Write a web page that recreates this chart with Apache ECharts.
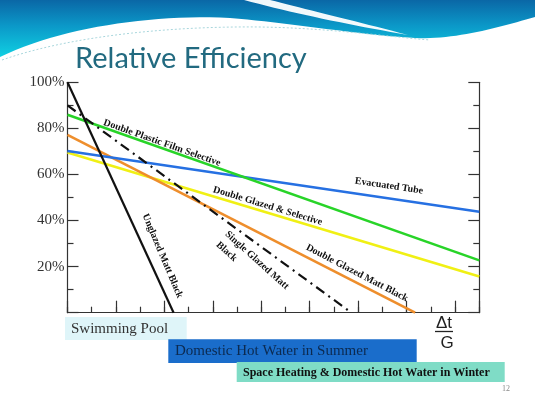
<!DOCTYPE html>
<html><head><meta charset="utf-8">
<script src="https://cdn.jsdelivr.net/npm/echarts@6/dist/echarts.min.js"></script>
<style>html,body{margin:0;padding:0;background:#fff}#c{width:535px;height:400px}</style>
</head><body><div id="c"></div><script>
// ---- data (x: Δt/G axis units 0..17, y: relative efficiency %) ----
const yTickValues = [0, 20, 40, 60, 80, 100];
const seriesNames = ['Double Glazed & Selective', 'Double Glazed Matt Black', 'Evacuated Tube',
  'Double Plastic Film Selective', 'Single Glazed Matt Black', 'Unglazed Matt Black'];
const doubleGlazedSelective = [[0, 69.5], [17, 15.7]];
const doubleGlazedMattBlack = [[0, 77.2], [14.35, 0]];
const evacuatedTube = [[0, 70.2], [17, 43.8]];
const doublePlasticFilm = [[0, 85.9], [17, 22.7]];
const singleGlazedMattBlack = [[0, 90], [11.72, 0]];
const unglazedMattBlack = [[0, 100], [4.38, 0]];

const labelText = ['Double Plastic Film Selective', 'Evacuated Tube', 'Double Glazed & Selective',
  'Double Glazed Matt Black', 'Single Glazed Matt', 'Black', 'Unglazed Matt Black'];
const labelX = [3.90, 13.27, 8.26, 11.95, 7.82, 6.57, 3.92];
const labelY = [73.7, 55.0, 46.3, 17.2, 22.7, 26.5, 24.6];
const labelAngle = [19.5, 8.5, 17, 27.5, 42, 42, 67];

const bandText = ['Swimming Pool', 'Domestic Hot Water in Summer', 'Space Heating & Domestic Hot Water in Winter'];
const titleText = 'Relative Efficiency';

// ---- chart ----
const chart = echarts.init(document.getElementById('c'), null, {renderer: 'canvas'});
const axisCol = '#333';
const serif = '"Liberation Serif", "Times New Roman", serif';

function yAx(pos, showLabel) {
  return {
    type: 'value', min: 0, max: 100, interval: 20, position: pos,
    axisLine: {show: true, onZero: false, lineStyle: {color: axisCol, width: 1.2}},
    axisTick: {show: true, inside: true, length: 11, lineStyle: {color: axisCol, width: 1.2}},
    minorTick: {show: true, splitNumber: 2, length: 6, lineStyle: {color: axisCol, width: 1.2}},
    axisLabel: {show: showLabel, margin: 3, fontFamily: serif, fontSize: 15, color: '#333',
      formatter: v => (yTickValues.indexOf(v) > 0 ? v + '%' : '')},
    splitLine: {show: false}, minorSplitLine: {show: false}
  };
}

function line(data, color, width, type, z) {
  return {type: 'line', data: data, symbol: 'none', showSymbol: false, silent: true, z: z,
    lineStyle: {color: color, width: width, type: type || 'solid'}, animation: false};
}

chart.setOption({
  animation: false,
  grid: {left: 67.5, top: 82.3, right: 55.7, bottom: 87.3, containLabel: false},
  xAxis: [
    {type: 'value', min: 0, max: 17, interval: 2, position: 'bottom',
      axisLine: {show: true, onZero: false, lineStyle: {color: axisCol, width: 1.2}},
      axisTick: {show: true, inside: true, length: 12, lineStyle: {color: axisCol, width: 1.2}},
      axisLabel: {show: false}, splitLine: {show: false}},
    {type: 'value', min: 0, max: 17, interval: 1, position: 'bottom',
      axisLine: {show: false, onZero: false},
      axisTick: {show: true, inside: true, length: 6, lineStyle: {color: axisCol, width: 1.2}},
      axisLabel: {show: false}, splitLine: {show: false}}
  ],
  yAxis: [yAx('left', true), yAx('right', false)],
  series: [
    Object.assign(line(doubleGlazedSelective, '#f0f014', 2.6, 'solid', 2), {name: seriesNames[0]}),
    Object.assign(line(doubleGlazedMattBlack, '#ee8e2c', 2.6, 'solid', 3), {name: seriesNames[1]}),
    Object.assign(line(evacuatedTube, '#2670e2', 2.6, 'solid', 4), {name: seriesNames[2]}),
    Object.assign(line(doublePlasticFilm, '#28d428', 2.6, 'solid', 5), {name: seriesNames[3]}),
    Object.assign(line(singleGlazedMattBlack, '#111', 2.2, [10, 5, 2, 5], 6), {name: seriesNames[4]}),
    Object.assign(line(unglazedMattBlack, '#111', 2.2, 'solid', 7), {name: seriesNames[5]})
  ]
});

function txt(x, y, text, opts) {
  const s = Object.assign({text: text, fill: '#111', fontFamily: serif, fontSize: 12,
    textAlign: 'left', align: 'left', textVerticalAlign: 'middle', verticalAlign: 'middle'}, opts || {});
  return {type: 'text', x: x, y: y, style: s, z: 100, silent: true};
}
// sample a chain of cubic bezier segments into points (decoration only)
function bez(start, segs, n) {
  const pts = [start.slice()];
  let p0 = start;
  segs.forEach(function (s) {
    const c1 = s[0], c2 = s[1], p3 = s[2];
    for (let i = 1; i <= n; i++) {
      const t = i / n, u = 1 - t;
      pts.push([u*u*u*p0[0] + 3*u*u*t*c1[0] + 3*u*t*t*c2[0] + t*t*t*p3[0],
                u*u*u*p0[1] + 3*u*u*t*c1[1] + 3*u*t*t*c2[1] + t*t*t*p3[1]]);
    }
    p0 = p3;
  });
  return pts;
}

const g = [];
// header wave
const wave = [[0, 0], [535, 0]].concat(bez([535, 17], [
  [[500, 27], [455, 40], [415, 38]],
  [[360, 35], [300, 24], [230, 18]],
  [[150, 14], [60, 28], [0, 57]]
], 24));
g.push({type: 'polygon', z: 1, silent: true, shape: {points: wave},
  style: {fill: {type: 'linear', x: 0, y: 0, x2: 0, y2: 1, colorStops: [
    {offset: 0, color: '#0a67a6'}, {offset: 0.45, color: '#0b98c8'}, {offset: 1, color: '#10d0e2'}]}}});
const swoosh = [[244, 0], [270, 0]]
  .concat(bez([270, 0], [[[305, 9], [355, 21], [408, 35]]], 20))
  .concat(bez([408, 35], [[[350, 25], [292, 13], [244, 0]]], 20));
g.push({type: 'polygon', z: 2, silent: true, shape: {points: swoosh}, style: {fill: 'rgba(255,255,255,0.95)'}});
g.push({type: 'polyline', z: 2, silent: true,
  shape: {points: bez([2, 60], [[[70, 36], [170, 26], [260, 27]], [[330, 28], [390, 37], [430, 40]]], 30)},
  style: {fill: null, stroke: '#a8d6dc', lineWidth: 1, lineDash: [2, 2]}});
// title
g.push(txt(75, 59, titleText, {fontFamily: 'Lato, "Open Sans", sans-serif', fontSize: 29, fill: '#226a80'}));
// bands
g.push({type: 'rect', z: 10, silent: true, shape: {x: 65, y: 317, width: 121.7, height: 23}, style: {fill: '#dff5f9'}});
g.push(txt(71, 329, bandText[0], {fontSize: 15, fill: '#333'}));
g.push({type: 'rect', z: 11, silent: true, shape: {x: 168.3, y: 339.3, width: 248.4, height: 23.6}, style: {fill: '#1a6dcb'}});
g.push(Object.assign(txt(175, 351.5, bandText[1], {fontSize: 15, fill: '#0c2a50'}), {z: 111}));
g.push({type: 'rect', z: 12, silent: true, shape: {x: 236.7, y: 362, width: 268, height: 20}, style: {fill: '#7fdcc6'}});
g.push(Object.assign(txt(243, 372.5, bandText[2], {fontSize: 12, fontWeight: 'bold', fill: '#111'}), {z: 112}));
// Δt / G
g.push(txt(444, 323.5, 'Δt', {fontFamily: '"Liberation Sans", Arial, sans-serif', fontSize: 17, fill: '#222', textAlign: 'center', align: 'center'}));
g.push({type: 'line', z: 100, silent: true, shape: {x1: 435, y1: 331.5, x2: 453, y2: 331.5}, style: {stroke: '#222', lineWidth: 1.3}});
g.push(txt(447, 343.5, 'G', {fontFamily: '"Liberation Sans", Arial, sans-serif', fontSize: 17, fill: '#222', textAlign: 'center', align: 'center'}));
// page number
g.push(txt(506, 389, '12', {fontSize: 8, fill: '#888', textAlign: 'center', align: 'center'}));
// line annotations anchored to data coordinates
labelText.forEach(function (t, i) {
  const p = chart.convertToPixel({seriesIndex: 0}, [labelX[i], labelY[i]]);
  g.push({type: 'text', x: p[0], y: p[1], rotation: -labelAngle[i] * Math.PI / 180, z: 100, silent: true,
    style: {text: t, fill: '#111', fontFamily: serif, fontSize: 10, fontWeight: 'bold',
      textAlign: 'center', align: 'center', textVerticalAlign: 'middle', verticalAlign: 'middle'}});
});
chart.setOption({graphic: g});
</script></body></html>
